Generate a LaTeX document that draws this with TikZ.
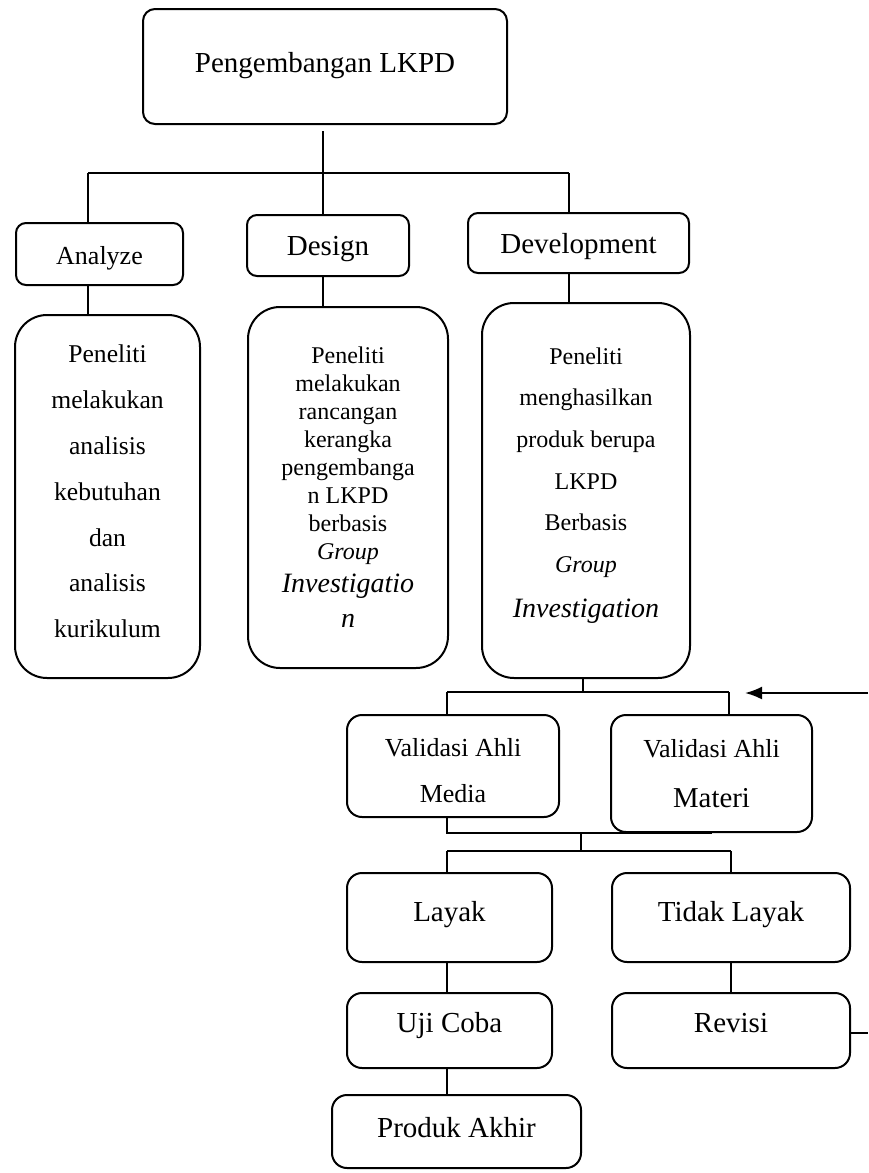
\documentclass[tikz,border=0pt]{standalone}
\usepackage{fontspec}
\setmainfont{Liberation Serif}
\usetikzlibrary{arrows.meta}

\begin{document}
\begin{tikzpicture}[x=0.5pt,y=-0.5pt,
			box/.style={draw,line width=1pt,rounded corners=6pt,align=center,inner sep=0pt,
				font=\fontsize{14.5}{17}\selectfont,text height=10pt,text depth=#1},
			box/.default=0pt,
			twoline/.style={draw,line width=1pt,rounded corners=7.5pt,align=center,inner sep=0pt},
			tall/.style={draw,line width=1pt,rounded corners=16pt,align=center,inner sep=0pt},
			link/.style={line width=0.6pt}]
			\useasboundingbox (0,0) rectangle (868,1173);
			\node[box=4pt,minimum width=182pt,minimum height=57.5pt] (lkpd) at (325,66.5) {Pengembangan LKPD};
			\node[box,rounded corners=5pt,font=\fontsize{13}{15}\selectfont,minimum width=83.5pt,minimum height=31pt] (an) at (99.5,254) {Analyze};
			\node[box,rounded corners=5pt,minimum width=81pt,minimum height=30.5pt] (ds) at (328,245.5) {Design};
			\node[box,rounded corners=5pt,minimum width=110.5pt,minimum height=30pt] (dv) at (578.5,243) {Development};
			\node[tall,minimum width=92.5pt,minimum height=181.5pt,font=\fontsize{12.8}{22.9}\selectfont] (anx) at (107.5,496.5)
				{Peneliti\\melakukan\\analisis\\kebutuhan\\dan\\analisis\\kurikulum\\[-17.9pt]\mbox{}};
			\node[tall,minimum width=100pt,minimum height=180.5pt,font=\fontsize{12}{14}\selectfont] (dsx) at (348,487.5)
				{Peneliti\\melakukan\\rancangan\\kerangka\\pengembanga\\n LKPD\\berbasis\\\textit{Group}\\[2.5pt]{\fontsize{14}{14}\selectfont\textit{Investigatio}}\\[3.5pt]{\fontsize{14}{14}\selectfont\textit{n}}};
			\node[tall,minimum width=104pt,minimum height=187.5pt,font=\fontsize{12}{20.8}\selectfont] (dvx) at (586,490.5)
				{Peneliti\\menghasilkan\\produk berupa\\LKPD\\Berbasis\\\textit{Group}\\[1.7pt]{\fontsize{14}{14}\selectfont\textit{Investigation}}\\[-12.8pt]\mbox{}};
			\node[twoline,minimum width=106pt,minimum height=51pt,font=\fontsize{13}{23}\selectfont] (med) at (453,766) {\mbox{}\\[-9.1pt]Validasi Ahli\\Media};
			\node[twoline,minimum width=100.5pt,minimum height=58.5pt,font=\fontsize{13}{25}\selectfont] (mat) at (711.5,773.5) {Validasi Ahli\\{\fontsize{14.4}{25}\selectfont Materi}};
			\node[box=6.3pt,rounded corners=7.5pt,minimum width=102.5pt,minimum height=44.5pt] (lay) at (449.5,917.5) {Layak};
			\node[box=6.3pt,rounded corners=7.5pt,minimum width=119pt,minimum height=44.5pt] (tl) at (731,917.5) {Tidak Layak};
			\node[box=8pt,rounded corners=7.5pt,minimum width=102.5pt,minimum height=37.5pt] (uji) at (449.5,1030.5) {Uji Coba};
			\node[box=8pt,rounded corners=7.5pt,minimum width=119pt,minimum height=37.5pt] (rev) at (731,1030.5) {Revisi};
			\node[box=4.3pt,rounded corners=7.5pt,minimum width=124.5pt,minimum height=36.5pt] (pro) at (456.5,1131.5) {Produk Akhir};
			% ADD stages
			\coordinate (bus1) at (323,173);
			\coordinate (xa) at (88,173);
			\coordinate (xd) at (569,173);
			\draw[link,shorten <=3pt] (lkpd.south -| bus1) -- (bus1);
			\draw[link] (xa) -- (xd);
			\draw[link] (xa) -- (an.north -| xa);
			\draw[link] (an.south -| xa) -- (anx.north -| xa);
			\draw[link] (bus1) -- (ds.north -| bus1);
			\draw[link] (ds.south -| bus1) -- (dsx.north -| bus1);
			\draw[link] (xd) -- (dv.north -| xd);
			\draw[link] (dv.south -| xd) -- (dvx.north -| xd);
			% validation
			\coordinate (bus2) at (583,692);
			\coordinate (xm) at (447,692);
			\coordinate (xt) at (729,692);
			\draw[link] (dvx.south -| bus2) -- (bus2);
			\draw[link] (xm) -- (xt);
			\draw[link] (xm) -- (med.north -| xm);
			\draw[link] (xt) -- (mat.north -| xt);
			\draw[link] (med.south -| xm) |- (mat.south);
			\coordinate (bus3) at (581,851);
			\coordinate (xl) at (447,851);
			\coordinate (xr) at (731,851);
			\draw[link] (bus3 |- mat.south) -- (bus3);
			\draw[link] (xl) -- (xr);
			\draw[link] (xl) -- (lay.north -| xl);
			\draw[link] (xr) -- (tl.north -| xr);
			\draw[link] (lay.south -| xl) -- (uji.north -| xl);
			\draw[link] (uji.south -| xl) -- (pro.north -| xl);
			\draw[link] (tl.south -| xr) -- (rev.north -| xr);
			% revisi loops back
			\coordinate (edgeb) at (868,1033);
			\coordinate (edget) at (868,693);
			\coordinate (tip) at (745,693);
			\draw[link] (rev.east |- edgeb) -- (edgeb);
			\draw[line width=1pt,-{Latex[length=8.5pt,width=6.5pt]}] (edget) -- (tip);
		\end{tikzpicture}
\end{document}
